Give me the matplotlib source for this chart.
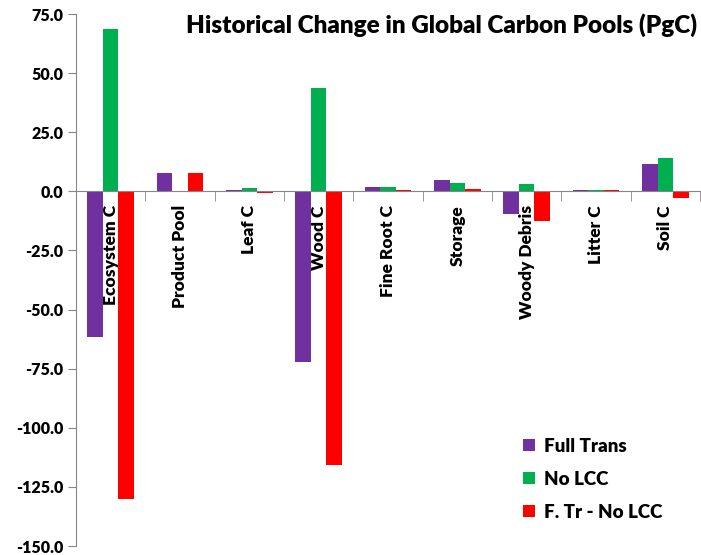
import numpy as np
import matplotlib
matplotlib.use('Agg')
import matplotlib.pyplot as plt

plt.rcParams['font.family'] = ['Lato', 'DejaVu Sans']

categories = ['Ecosystem C', 'Product Pool', 'Leaf C', 'Wood C', 'Fine Root C',
              'Storage', 'Woody Debris', 'Litter C', 'Soil C']
full_trans = [-61.5, 7.8, 0.5, -72.0, 1.7, 4.9, -9.5, 0.5, 11.6]
no_lcc = [68.6, 0.0, 1.4, 43.6, 1.7, 3.5, 3.1, 0.5, 14.0]
diff = [-130.0, 7.8, -0.8, -115.6, 0.5, 1.1, -12.7, 0.5, -2.7]

series_names = ['Full Trans', 'No LCC', 'F. Tr - No LCC']
colors = ['#7030A0', '#00B050', '#FF0000']
bold = 'heavy'

fig = plt.figure(figsize=(7.01, 5.55), dpi=100)
ax = fig.add_axes([76 / 701, 1 - 546 / 555, 624 / 701, 532 / 555])

x = np.arange(len(categories))
w = 0.225
for k, (vals, name, c) in enumerate(zip([full_trans, no_lcc, diff], series_names, colors)):
    ax.bar(x + (k - 1) * w, vals, w, color=c, label=name, zorder=2)

ax.set_xlim(-0.5, len(categories) - 0.5)
ax.set_ylim(-150, 75)
ax.set_yticks(np.arange(-150, 76, 25))
ax.set_yticklabels(['%.1f' % v for v in np.arange(-150, 76, 25)], fontsize=11.5, fontweight=bold)
ax.tick_params(axis='y', length=6, color='#868686', pad=3)

for s in ['top', 'right']:
    ax.spines[s].set_visible(False)
ax.spines['left'].set_color('#868686')
ax.spines['bottom'].set_position(('data', 0))
ax.spines['bottom'].set_color('#868686')
ax.spines['bottom'].set_zorder(3)

ax.set_xticks(x)
ax.set_xticklabels(categories, rotation=90, fontsize=12.5, fontweight=bold)
ax.tick_params(axis='x', which='major', length=0, pad=10)
ax.set_xticks(np.arange(-0.5, len(categories), 1), minor=True)
ax.tick_params(axis='x', which='minor', length=7, color='#868686', direction='out')

fig.text(0.995, 0.955, 'Historical Change in Global Carbon Pools (PgC)', ha='right', va='center',
         fontsize=17.5, fontweight=bold)

ax.legend(loc='upper left', bbox_to_anchor=(0.69, 0.235), frameon=False, handlelength=0.6,
          handleheight=0.6, handletextpad=0.5, labelspacing=0.85,
          prop={'size': 13.5, 'weight': bold})

fig.savefig('out.png', dpi=100)
